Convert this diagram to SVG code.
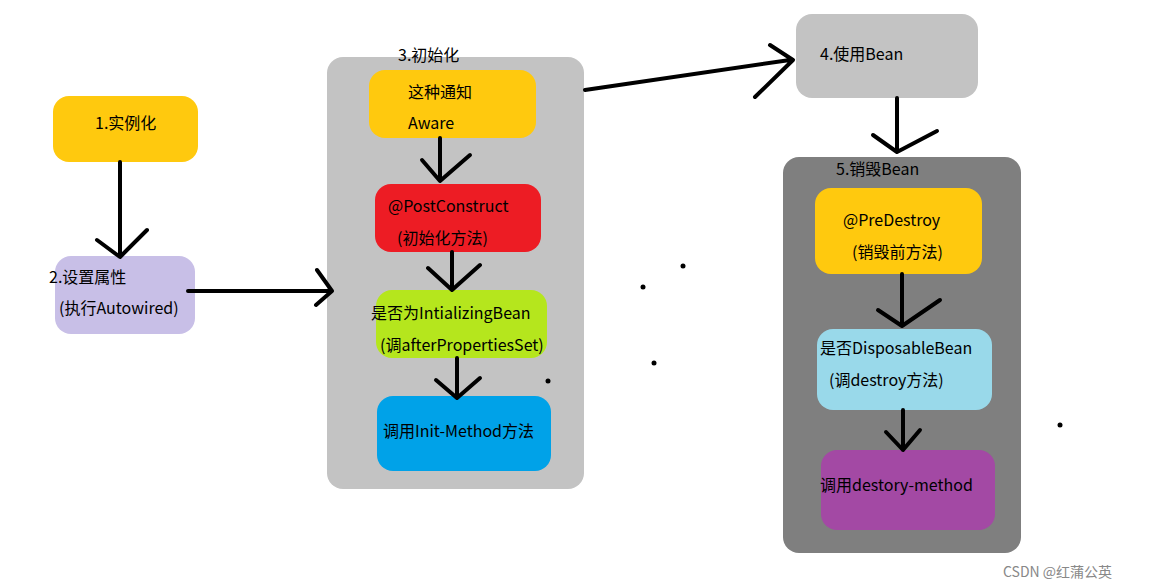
<svg xmlns="http://www.w3.org/2000/svg" width="1154" height="588" viewBox="0 0 1154 588">
<style>
text{font-family:"Noto Sans CJK SC","Noto Sans",sans-serif;font-size:16px;fill:#000}
.c path{fill:none;stroke:#000;stroke-width:4;stroke-linecap:round;stroke-linejoin:round}
.wm{font-size:14px;fill:#888}
</style>
<rect width="1154" height="588" fill="#fff"/>
<g id="n1"><rect x="53" y="96" width="145" height="66" rx="16" fill="#FFC90E"/><text x="95" y="129">1.实例化</text></g>
<g id="n2"><rect x="55" y="256" width="140" height="78" rx="16" fill="#C8BFE7"/><text x="49" y="283">2.设置属性</text><text x="59" y="314">(执行Autowired)</text></g>
<g id="g3"><rect x="327" y="57" width="257" height="432" rx="16" fill="#C3C3C3"/><text x="398" y="61">3.初始化</text></g>
<g id="aware"><rect x="369" y="70" width="167" height="68" rx="16" fill="#FFC90E"/><text x="408" y="98">这种通知</text><text x="408" y="129">Aware</text></g>
<g id="post"><rect x="375" y="184" width="166" height="68" rx="16" fill="#ED1C24"/><text x="388" y="212">@PostConstruct</text><text x="397" y="244">(初始化方法)</text></g>
<g id="ib"><rect x="376" y="290" width="171" height="68" rx="16" fill="#B5E61D"/><text x="371" y="319">是否为IntializingBean</text><text x="380" y="351">(调afterPropertiesSet)</text></g>
<g id="init"><rect x="377" y="396" width="174" height="75" rx="16" fill="#00A2E8"/><text x="383" y="437">调用Init-Method方法</text></g>
<g id="n4"><rect x="796" y="14" width="182" height="84" rx="16" fill="#C3C3C3"/><text x="820" y="60">4.使用Bean</text></g>
<g id="g5"><rect x="783" y="157" width="238" height="396" rx="16" fill="#7F7F7F"/><text x="836" y="175">5.销毁Bean</text></g>
<g id="pre"><rect x="815" y="188" width="167" height="86" rx="16" fill="#FFC90E"/><text x="843" y="226">@PreDestroy</text><text x="852" y="258">(销毁前方法)</text></g>
<g id="disp"><rect x="817" y="329" width="175" height="81" rx="16" fill="#99D9EA"/><text x="820" y="354">是否DisposableBean</text><text x="829" y="386">(调destroy方法)</text></g>
<g id="dm"><rect x="821" y="450" width="174" height="80" rx="16" fill="#A349A4"/><text x="820" y="491">调用destory-method</text></g>
<g class="c" id="connectors">
<path d="M120 162 L120 255 M97 240 L120 257 L147 230"/>
<path d="M188 291 L330 291 M317 270 L332 291 L316 305"/>
<path d="M440 138 L440 180 M422 160 L440 181 L470 155"/>
<path d="M452 252 L452 290 M428 268 L452 290 L480 265"/>
<path d="M457 358 L457 398 M436 380 L457 398 L480 378"/>
<path d="M585 90 L790 60 M770 45 L793 60 L755 97"/>
<path d="M897 98 L897 152 M873 135 L897 152 L937 131"/>
<path d="M902 274 L902 326 M878 310 L902 326 L940 300"/>
<path d="M903 410 L903 450 M886 432 L903 450 L920 430"/>
</g>
<g fill="#000"><circle cx="683" cy="266" r="2.5"/><circle cx="643" cy="287" r="2.5"/><circle cx="654" cy="363" r="2.5"/><circle cx="548" cy="381" r="2.5"/><circle cx="1060" cy="425" r="2.5"/></g>
<text class="wm" x="1003" y="577">CSDN @红蒲公英</text>
</svg>
